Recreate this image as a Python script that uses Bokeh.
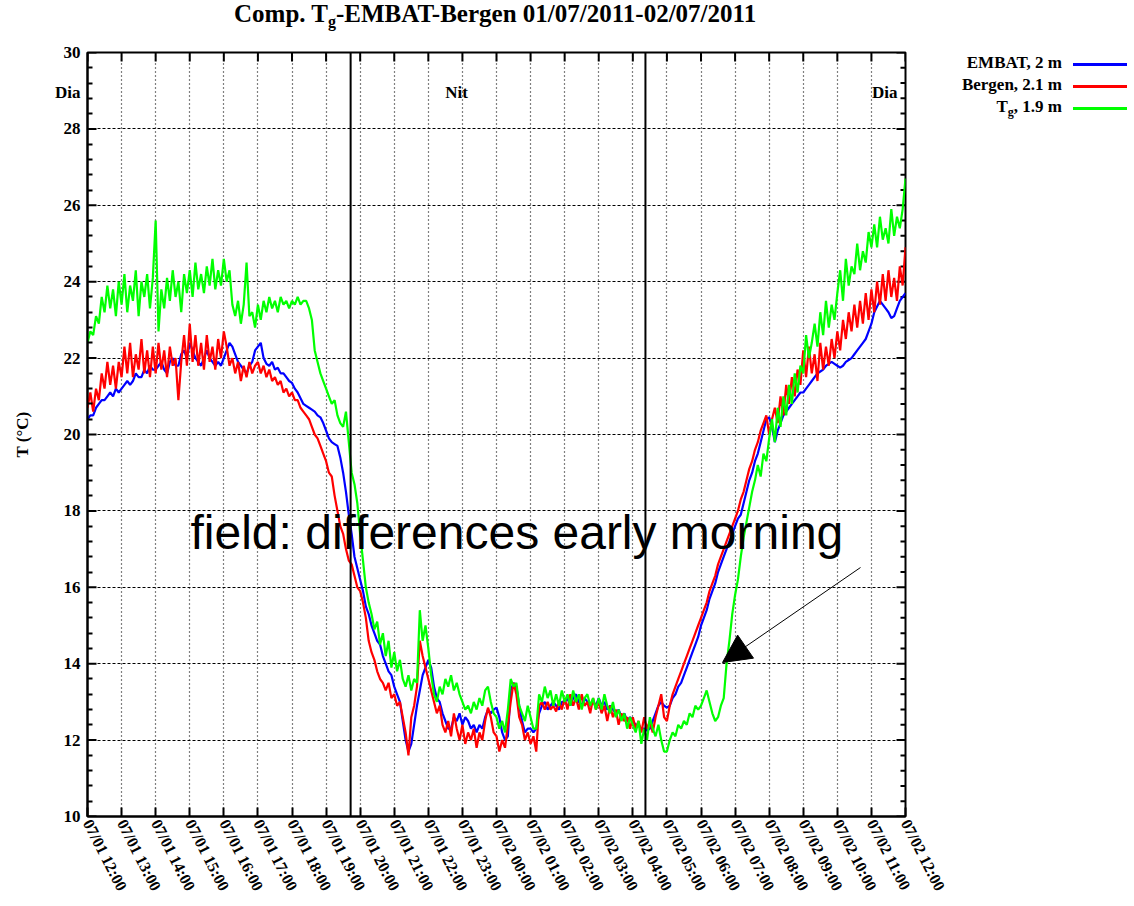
from bokeh.plotting import figure
from bokeh.models import FixedTicker, Span, Label, Arrow, NormalHead, Range1d, Div
from bokeh.layouts import column, row
from bokeh.embed import file_html
from bokeh.resources import INLINE

# ---------------- data (5-minute samples from 07/01 12:00 to 07/02 12:00) -------------
minutes = list(range(0, 1441, 5))
hours = [m / 60 for m in minutes]

# EMBAT, 2 m (one row per hour)
embat = [
    20.4, 20.5, 20.5, 20.7, 20.8, 20.9, 20.9, 21.0, 21.1, 21.0, 21.2, 21.1,
    21.2, 21.3, 21.4, 21.3, 21.4, 21.6, 21.5, 21.5, 21.7, 21.6, 21.8, 21.7,
    21.7, 21.8, 21.9, 21.7, 21.6, 21.9, 22.0, 21.8, 21.8, 22.1, 22.2, 22.0,
    22.4, 22.2, 22.0, 21.9, 21.8, 22.0, 22.2, 22.0, 21.9, 21.8, 21.9, 21.8,
    22.0, 22.2, 22.4, 22.3, 22.1, 21.9, 21.8, 21.7, 21.6, 21.8, 21.9, 22.2,
    22.3, 22.4, 22.0, 21.85, 21.8, 21.9, 21.7, 21.75, 21.6, 21.6, 21.5, 21.4,
    21.35, 21.2, 21.1, 20.95, 20.8, 20.75, 20.7, 20.65, 20.6, 20.5, 20.45, 20.3,
    20.1, 19.9, 19.8, 19.75, 19.7, 19.4, 19.0, 18.5, 17.9, 17.4, 16.8, 16.5,
    16.2, 15.9, 15.5, 15.3, 15.0, 14.8, 14.6, 14.5, 14.2, 14.0, 13.8, 13.7,
    13.4, 13.2, 13.0, 12.5, 12.0, 11.7, 11.9, 12.4, 12.9, 13.3, 13.7, 13.9,
    14.1, 13.9, 13.4, 13.1, 13.0, 12.7, 12.5, 12.3, 12.3, 12.6, 12.5, 12.7,
    12.4, 12.6, 12.5, 12.3, 12.4, 12.2, 12.4, 12.3, 12.6, 12.8, 12.7, 12.8,
    12.85, 12.6, 12.2, 12.0, 12.1, 13.3, 13.5, 13.4, 12.9, 12.5, 12.2, 12.3,
    12.3, 12.2, 12.3, 12.7, 12.9, 13.0, 12.8, 12.9, 13.0, 12.9, 12.8, 13.0,
    13.0, 13.1, 12.9, 13.1, 13.2, 13.0, 12.9, 13.1, 13.0, 12.9, 13.0, 12.9,
    13.1, 12.9, 13.0, 12.8, 12.9, 12.8, 12.7, 12.8, 12.6, 12.7, 12.5, 12.6,
    12.5, 12.4, 12.4, 12.3, 12.3, 12.25, 12.3, 12.5, 12.7, 12.9, 13.0, 12.9,
    12.85, 12.9, 13.1, 13.2, 13.4, 13.5, 13.7, 13.9, 14.1, 14.3, 14.5, 14.7,
    15.0, 15.2, 15.4, 15.7, 15.9, 16.1, 16.4, 16.6, 16.8, 17.0, 17.2, 17.4,
    17.6, 17.8, 17.9, 18.2, 18.5, 18.8, 19.0, 19.3, 19.5, 19.8, 20.1, 20.4,
    20.45, 20.2, 19.8, 20.1, 20.3, 20.5, 20.6, 20.7, 20.8, 20.9, 21.0, 21.1,
    21.1, 21.2, 21.3, 21.4, 21.5, 21.6, 21.65, 21.7, 21.8, 21.85, 21.9, 21.85,
    21.8, 21.75, 21.8, 21.9, 21.95, 22.0, 22.1, 22.2, 22.3, 22.4, 22.5, 22.7,
    22.9, 23.2, 23.35, 23.5, 23.4, 23.3, 23.2, 23.05, 23.1, 23.3, 23.5, 23.6,
    23.7,
]

# Bergen, 2.1 m
bergen = [
    20.7, 21.1, 20.6, 21.2, 20.9, 21.6, 21.2, 21.9, 21.3, 21.8, 21.2, 21.9,
    21.5, 22.3, 21.6, 22.4, 21.5, 22.1, 21.7, 22.5, 21.6, 22.2, 21.5, 22.3,
    21.6, 22.4, 21.7, 22.2, 21.5, 22.3, 21.8, 22.0, 20.9, 21.9, 22.6, 21.8,
    22.9, 21.9, 22.6, 21.8, 22.4, 21.7, 22.6, 21.9, 22.3, 21.7, 22.5, 22.0,
    22.7, 22.3, 21.8, 22.0, 21.6, 21.9, 21.4, 21.8, 21.5, 21.9, 21.6, 21.8,
    21.9, 21.6, 21.8, 21.5, 21.7, 21.4, 21.5, 21.3, 21.4, 21.1, 21.2, 21.0,
    21.1, 20.9, 20.9, 20.7, 20.6, 20.5, 20.4, 20.2, 20.0, 19.9, 19.7, 19.5,
    19.3, 19.0, 18.9, 18.4, 18.0, 17.6, 17.4, 17.0, 16.7, 16.6, 16.3, 16.0,
    15.9, 15.6, 15.2, 14.6, 14.3, 14.1, 13.8, 13.6, 13.5, 13.3, 13.5, 13.1,
    13.2, 12.9, 13.0, 12.6, 12.2, 11.6, 12.6, 12.9, 13.4, 14.6, 14.2, 13.9,
    13.6, 13.3, 13.0, 12.7, 12.9, 12.4, 12.2, 12.5, 12.1, 12.7, 12.3, 12.0,
    12.4, 11.9, 12.2, 12.0, 12.3, 11.8, 12.2, 12.0, 12.5, 12.85, 12.6, 12.2,
    12.1, 11.7, 12.0, 11.8, 12.4, 13.0, 13.5, 13.2, 12.6, 12.4, 12.0, 12.2,
    11.9, 12.1, 11.7, 12.9, 13.0, 12.8, 13.0, 12.8, 12.9, 12.75, 13.0, 12.8,
    13.1, 12.8, 13.2, 12.9, 13.1, 12.8, 13.2, 12.9, 13.0, 12.7, 13.1, 12.8,
    13.0, 12.7, 12.9, 12.5, 12.9, 12.6, 12.8, 12.4, 12.7, 12.5, 12.6, 12.3,
    12.6, 12.3, 12.5, 12.2, 12.6, 12.3, 12.5, 12.2, 12.6, 12.9, 13.2, 12.6,
    12.5, 12.9, 13.2, 13.4, 13.6, 13.8, 14.0, 14.2, 14.4, 14.6, 14.8, 15.0,
    15.2, 15.4, 15.6, 15.9, 16.1, 16.3, 16.6, 16.8, 17.0, 17.2, 17.4, 17.6,
    17.8, 18.0, 18.3, 18.5, 18.8, 19.1, 19.3, 19.6, 19.8, 20.1, 20.3, 20.5,
    20.0, 20.4, 20.7, 20.3, 21.0, 20.5, 21.3, 20.8, 21.5, 21.0, 21.7, 21.3,
    22.2, 21.5, 22.3, 21.6, 22.1, 21.4, 22.4, 21.7, 22.3, 21.8, 22.5, 22.0,
    22.7, 22.2, 23.0, 22.5, 23.2, 22.7, 23.4, 22.8, 23.5, 22.9, 23.7, 23.0,
    23.8, 23.2, 24.0, 23.4, 24.2, 23.5, 24.3, 23.6, 24.1, 23.5, 24.4, 23.9,
    24.9,
]

# Tg, 1.9 m
tg = [
    22.4, 22.7, 22.6, 23.1, 22.9, 23.6, 23.2, 23.9, 23.3, 23.8, 23.1, 24.0,
    23.4, 24.2, 23.2, 23.9, 23.5, 24.3, 23.1, 24.0, 23.6, 24.2, 23.3, 24.1,
    25.6, 22.7, 23.8, 23.3, 24.1, 23.5, 24.3, 23.6, 24.0, 23.2, 24.2, 23.7,
    24.3, 23.6, 24.5, 23.8, 24.2, 23.7, 24.4, 23.9, 24.6, 23.8, 24.3, 23.9,
    24.6, 24.0, 24.3, 23.4, 23.1, 23.5, 22.9, 23.4, 24.5, 23.1, 23.2, 22.8,
    23.4, 23.0, 23.5, 23.2, 23.6, 23.3, 23.5, 23.2, 23.6, 23.4, 23.5, 23.3,
    23.5, 23.4, 23.6, 23.4, 23.5, 23.5, 23.3, 23.0, 22.2, 21.9, 21.6, 21.4,
    21.2, 21.0, 20.8, 20.9, 20.5, 20.3, 20.2, 20.6, 19.8, 19.0, 18.7, 18.2,
    17.4, 16.7, 16.0, 15.6, 15.3, 14.9, 15.1, 14.5, 14.8, 14.2, 14.6, 13.9,
    14.3, 13.8, 14.1, 13.6, 13.4, 13.7, 13.3, 13.6, 13.5, 15.4, 14.6, 15.0,
    14.4, 13.7, 13.2, 13.0, 13.4, 13.2, 13.6, 13.4, 13.7, 13.3, 13.5, 13.2,
    13.0, 12.8, 12.9, 12.7, 13.0, 12.8, 13.1, 12.9, 13.3, 13.4, 13.0, 12.7,
    12.6, 12.3, 12.5, 12.2, 12.8, 13.6, 13.4, 13.5, 12.9, 12.7, 12.5, 12.9,
    12.6, 12.3, 12.3, 13.2, 13.0, 13.4, 13.1, 13.3, 12.9, 13.2, 12.9, 13.3,
    13.0, 13.2, 12.9, 13.3, 13.0, 13.2, 12.8, 13.1, 13.2, 12.9, 13.1, 12.8,
    13.1, 12.8, 13.2, 12.9, 12.7, 13.0, 12.6, 12.8, 12.5, 12.7, 12.3, 12.6,
    12.4, 12.2, 12.5, 11.9, 12.3, 12.0, 12.6, 12.3, 12.1, 12.4, 12.0, 11.7,
    11.7, 12.0, 12.2, 12.1, 12.4, 12.3, 12.5, 12.4, 12.7, 12.6, 12.9, 12.8,
    12.9, 13.1, 13.3, 13.0, 12.7, 12.5, 12.6, 12.9, 13.1, 14.0, 14.6, 15.3,
    15.8, 16.2, 16.8, 17.3, 17.7, 18.1, 18.5, 18.8, 19.2, 18.9, 19.5, 19.3,
    19.9, 20.4, 19.8, 20.7, 20.2, 21.0, 20.5, 21.3, 20.8, 21.6, 21.1, 21.8,
    21.6, 22.6, 22.0, 22.4, 22.9, 22.3, 23.2, 22.6, 23.5, 22.8, 23.4, 23.0,
    23.7, 24.3, 23.5, 24.6, 23.9, 24.4, 24.2, 25.0, 24.3, 24.8, 24.5, 25.3,
    24.9, 25.5, 24.9, 25.7, 25.1, 25.4, 25.0, 25.9, 25.2, 25.7, 25.4, 25.9,
    26.7,
]

tick_hours = list(range(25))
tick_labels = [
    "07/01 12:00", "07/01 13:00", "07/01 14:00", "07/01 15:00", "07/01 16:00",
    "07/01 17:00", "07/01 18:00", "07/01 19:00", "07/01 20:00", "07/01 21:00",
    "07/01 22:00", "07/01 23:00", "07/02 00:00", "07/02 01:00", "07/02 02:00",
    "07/02 03:00", "07/02 04:00", "07/02 05:00", "07/02 06:00", "07/02 07:00",
    "07/02 08:00", "07/02 09:00", "07/02 10:00", "07/02 11:00", "07/02 12:00",
]
y_ticks = [10, 12, 14, 16, 18, 20, 22, 24, 26, 28, 30]
y_minor = [10 + 0.4 * k for k in range(51) if k % 5]

# sunset / sunrise (hours after 07/01 12:00)
day_night_changes = [7.72, 16.37]
period_labels = [("Nit", 10.83), ("Dia", 23.39)]   # inside the frame
left_day_label_temp = 28.95                         # "Dia" left of the axis

# ---------------- layout helpers (page pixel -> data) ----------------
FL, FR, FT, FB = 87, 905, 52, 816
FW, FH = FR - FL, FB - FT
TITLE_H = 40
PLOT_RIGHT = 50


def hx(px):
    return (px - FL) * 24 / FW


def ty(py):
    return 10 + (FB - py) * 20 / FH


TICK_DX = 9 * 24 / FW
TICK_DY = 9 * 20 / FH
MINOR_DX = 5 * 24 / FW

SERIF = "Liberation Serif"

p = figure(frame_width=FW, frame_height=FH,
           min_border_left=FL, min_border_right=PLOT_RIGHT,
           min_border_top=FT - TITLE_H, min_border_bottom=86,
           x_range=Range1d(0, 24), y_range=Range1d(10, 30),
           output_backend="svg", toolbar_location=None, title=None)
p.background_fill_color = "white"
p.border_fill_color = "white"
p.outline_line_color = "black"
p.outline_line_width = 2

# grids
p.xgrid.ticker = FixedTicker(ticks=tick_hours)
p.xgrid.grid_line_color = "black"
p.xgrid.grid_line_dash = "1 3"
p.xgrid.grid_line_width = 1.2
p.ygrid.ticker = FixedTicker(ticks=y_ticks)
p.ygrid.grid_line_color = "black"
p.ygrid.grid_line_dash = "3 2"
p.ygrid.grid_line_width = 1.2


def style_axis(ax):
    ax.axis_line_color = "black"
    ax.axis_line_width = 2
    ax.major_tick_line_width = 2
    ax.minor_tick_in = 5
    ax.minor_tick_out = 0
    ax.minor_tick_line_width = 2
    ax.major_label_text_font = SERIF
    ax.major_label_text_font_style = "bold"
    ax.major_label_text_color = "black"


xa = p.xaxis[0]
style_axis(xa)
xa.ticker = FixedTicker(ticks=tick_hours)
xa.major_label_overrides = {h: lab for h, lab in zip(tick_hours, tick_labels)}
xa.major_label_orientation = -1.1
xa.major_label_text_font_size = "16px"
xa.major_label_standoff = 4
xa.major_tick_in = 9
xa.major_tick_out = 0
xa.minor_tick_line_color = None

ya = p.yaxis[0]
style_axis(ya)
ya.ticker = FixedTicker(ticks=y_ticks + [left_day_label_temp], minor_ticks=y_minor)
ya.major_label_overrides = {left_day_label_temp: "Dia"}
ya.major_tick_in = 0
ya.major_tick_out = 0
ya.major_label_text_font_size = "17px"
ya.major_label_standoff = 7
ya.axis_label = "T (°C)"
ya.axis_label_text_font = SERIF
ya.axis_label_text_font_style = "bold"
ya.axis_label_text_font_size = "17px"
ya.axis_label_text_color = "black"
ya.axis_label_standoff = 20

# major y ticks (left), mirrored ticks on the right and on top
n_y = len(y_ticks)
p.segment(x0=[0] * n_y, y0=y_ticks, x1=[TICK_DX] * n_y, y1=y_ticks,
          line_color="black", line_width=2)
p.segment(x0=[24] * n_y, y0=y_ticks, x1=[24 - TICK_DX] * n_y, y1=y_ticks,
          line_color="black", line_width=2)
p.segment(x0=[24] * len(y_minor), y0=y_minor, x1=[24 - MINOR_DX] * len(y_minor), y1=y_minor,
          line_color="black", line_width=2)
p.segment(x0=tick_hours, y0=[30] * len(tick_hours), x1=tick_hours,
          y1=[30 - TICK_DY] * len(tick_hours), line_color="black", line_width=2)

# series
p.line(hours, embat, line_color="#0000ff", line_width=2.2)
p.line(hours, bergen, line_color="#ff0000", line_width=2.2)
p.line(hours, tg, line_color="#00ff00", line_width=2.2)

for t in day_night_changes:
    p.add_layout(Span(location=t, dimension="height", line_color="black", line_width=2))

for text, h in period_labels:
    p.add_layout(Label(x=h, y=ty(92), text=text, text_font=SERIF, text_font_size="17px",
                       text_font_style="bold", text_align="center", text_baseline="middle",
                       text_color="black"))

# annotation
p.add_layout(Label(x=hx(190), y=ty(532), text="field: differences early morning",
                   text_font="Liberation Sans", text_font_size="48px",
                   text_baseline="alphabetic", text_color="black"))
p.add_layout(Arrow(end=NormalHead(size=28, fill_color="black", line_color="black"),
                   x_start=hx(860), y_start=ty(567), x_end=hx(722), y_end=ty(662),
                   line_color="black", line_width=1))

# ---------------- title and key (HTML, for the subscript g) ----------------
title_html = (
    "<div style=\"padding-left:234px;padding-top:0px;white-space:nowrap;"
    "font-family:'Liberation Serif';font-weight:bold;font-size:25px;line-height:28px;color:black\">"
    "Comp. T<span style=\"font-size:16px;position:relative;top:5px\">g</span>"
    "-EMBAT-Bergen 01/07/2011-02/07/2011</div>"
)
title_div = Div(text=title_html, width=1130, height=TITLE_H, margin=0)

LEG_LEFT = FL + FW + PLOT_RIGHT          # page x where the key column starts
LEG_W = 1130 - LEG_LEFT
legend_entries = [
    ("EMBAT, 2 m", "#0000ff", 64),
    ("Bergen, 2.1 m", "#ff0000", 86),
    ("T<span style=\"font-size:12px;position:relative;top:4px\">g</span>, 1.9 m", "#00ff00", 108),
]
parts = []
for text, col, yc in legend_entries:
    top = yc - TITLE_H
    parts.append(
        f"<div style=\"position:absolute;right:{LEG_W - (1062 - LEG_LEFT)}px;top:{top - 11}px;"
        f"white-space:nowrap;font-family:'Liberation Serif';font-weight:bold;font-size:17px;"
        f"line-height:20px;color:black\">{text}</div>"
        f"<div style=\"position:absolute;left:{1073 - LEG_LEFT}px;top:{top - 1}px;"
        f"width:{1127 - 1073}px;height:3px;background:{col}\"></div>"
    )
legend_html = (f"<div style=\"position:relative;width:{LEG_W}px;height:100px\">"
               + "".join(parts) + "</div>")
legend_div = Div(text=legend_html, width=LEG_W, height=100, margin=0)

layout = column(title_div, row(p, legend_div, spacing=0), spacing=0)

open("out.html", "w").write(file_html(layout, INLINE))
